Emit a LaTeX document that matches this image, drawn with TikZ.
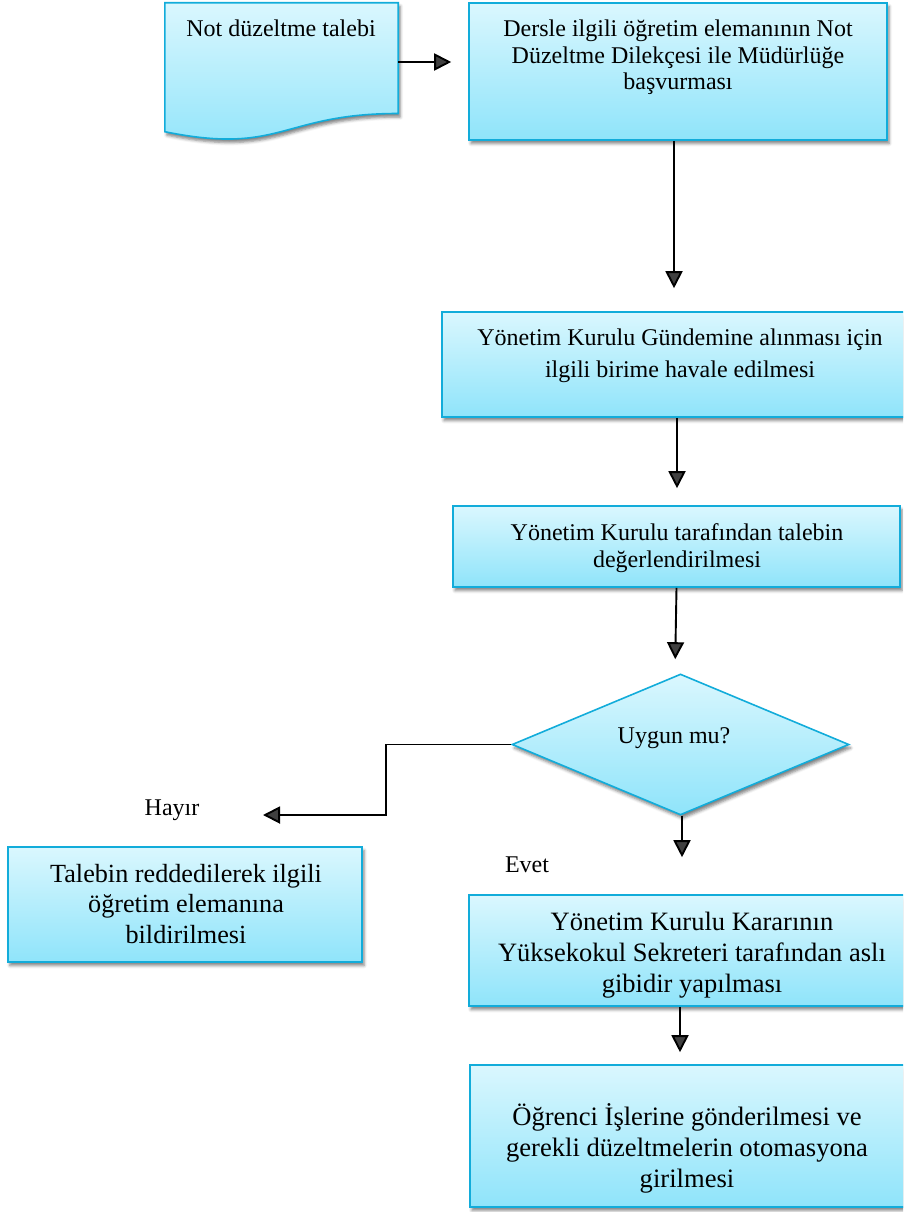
\documentclass[tikz,border=0pt]{standalone}
\usepackage{fontspec}
\setmainfont{Liberation Serif}
\usetikzlibrary{arrows.meta,shapes.geometric,shadows.blur,calc}
\definecolor{boxtop}{RGB}{218,247,254}
\definecolor{boxbot}{RGB}{143,228,250}
\definecolor{boxline}{RGB}{18,172,218}
\begin{document}
\begin{tikzpicture}[x=1pt,y=-1pt,
  flowfill/.style={top color=boxtop, bottom color=boxbot, draw=boxline, line width=1.6pt,
    blur shadow={shadow xshift=2pt, shadow yshift=-3.5pt, shadow blur radius=3pt, shadow opacity=50}},
  procbox/.style={flowfill, rectangle, inner sep=0pt},
  decision/.style={flowfill, diamond, inner sep=0pt},
  % anchor=base sits on the baseline of the last line
  txt/.style={align=center, anchor=base, inner sep=0pt, text=black},
  arr/.style={line width=1.9pt, -{Triangle[length=17pt,width=17pt]}}
]
\useasboundingbox (0,0) rectangle (903,1212);
\clip (0,0) rectangle (903,1212);

% document symbol (wavy bottom)
\node[inner sep=0pt, minimum width=233pt, minimum height=118pt] (doc) at (281.5,62) {};
\path[flowfill] (doc.north west) -- (doc.north east)
  -- ($(doc.north east)+(0,110.7)$)
  .. controls ($(doc.north)+(0,110.7)$) and ($(doc.north)+(0,152.8)$) .. ($(doc.north west)+(0,128.9)$)
  -- cycle;

% process boxes
\node[procbox, minimum width=418pt, minimum height=137pt] (box2) at (678,71.5) {};
\node[procbox, minimum width=476pt, minimum height=105pt] (box3) at (680,364.5) {};
\node[procbox, minimum width=447pt, minimum height=81pt] (box4) at (676.5,546.5) {};
\node[decision, minimum width=337pt, minimum height=141pt] (dia) at (680.5,744.5) {};
\node[procbox, minimum width=354pt, minimum height=115pt] (box5) at (185,904.5) {};
\node[procbox, minimum width=446pt, minimum height=111pt] (box6) at (692,950.5) {};
\node[procbox, minimum width=436pt, minimum height=142pt] (box7) at (688,1136) {};

% texts
\node[txt, font=\fontsize{24}{27}\selectfont] (docT) at (281,37) {Not düzeltme talebi};
\node[txt, font=\fontsize{24}{26.5}\selectfont] (box2T) at (678,90)
  {Dersle ilgili öğretim elemanının Not\\Düzeltme Dilekçesi ile Müdürlüğe\\başvurması};
\node[txt, font=\fontsize{24}{32}\selectfont] (box3T) at (680,377)
  {Yönetim Kurulu Gündemine alınması için\\ilgili birime havale edilmesi};
\node[txt, font=\fontsize{24}{27}\selectfont] (box4T) at (677,567)
  {Yönetim Kurulu tarafından talebin\\değerlendirilmesi};
\node[txt, font=\fontsize{24}{27}\selectfont] (diaT) at (674,743) {Uygun mu?};
\node[txt, font=\fontsize{24}{27}\selectfont] (noT) at (172,815) {Hayır};
\node[txt, font=\fontsize{24}{27}\selectfont] (yesT) at (527,872) {Evet};
\node[txt, font=\fontsize{26.2}{30.5}\selectfont] (box5T) at (186,943)
  {Talebin reddedilerek ilgili\\öğretim elemanına\\bildirilmesi};
\node[txt, font=\fontsize{26.5}{31}\selectfont] (box6T) at (692,992)
  {Yönetim Kurulu Kararının\\Yüksekokul Sekreteri tarafından aslı\\gibidir yapılması};
\node[txt, font=\fontsize{26.6}{31}\selectfont] (box7T) at (687,1187)
  {Öğrenci İşlerine gönderilmesi ve\\gerekli düzeltmelerin otomasyona\\girilmesi};

% connectors
\coordinate (noEnd) at (263,815);
\draw[arr, shorten >=17pt] (doc.east) -- (box2.west |- doc.east);
\draw[arr, shorten >=23pt] ([xshift=-4pt]box2.south) -- ([xshift=-6pt]box3.north);
\draw[arr, shorten >=17pt] ([xshift=-3pt]box3.south) -- ([xshift=0.5pt]box4.north);
\draw[arr, shorten >=14pt] (box4.south) -- ([xshift=-5.5pt]dia.north);
\draw[arr, shorten >=37pt] ([xshift=1.5pt]dia.south) -- ([xshift=-10pt]box6.north);
\draw[arr, shorten >=12pt] ([xshift=-12pt]box6.south) -- ([xshift=-8pt]box7.north);
\draw[arr] (dia.west) -- ++(-125,0) |- (noEnd);
\end{tikzpicture}
\end{document}
